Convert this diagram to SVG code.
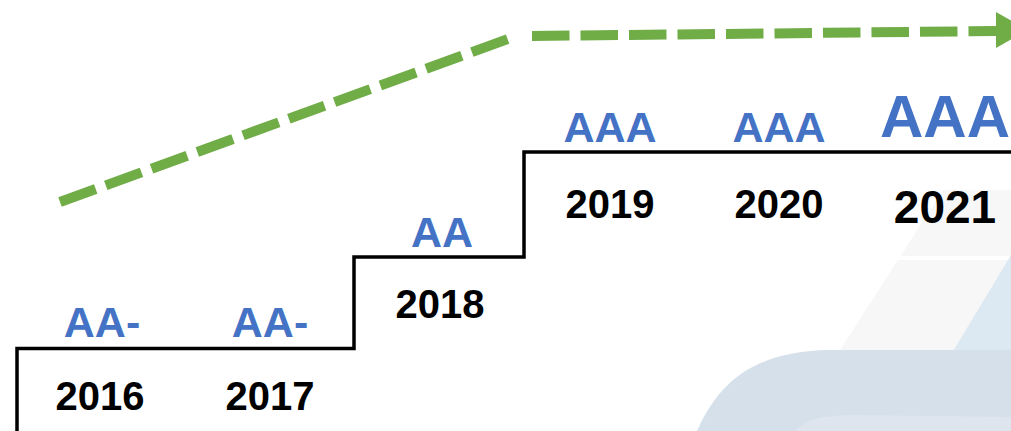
<svg xmlns="http://www.w3.org/2000/svg" width="1011" height="431" viewBox="0 0 1011 431">
  <style>
    .rating { font-family: "Liberation Sans", Arial, sans-serif; font-weight: bold; fill: #4472C4; text-anchor: middle; }
    .year { font-family: "Liberation Sans", Arial, sans-serif; font-weight: bold; fill: #000000; text-anchor: middle; }
    .trend { fill: none; stroke: #70AD47; stroke-width: 10; }
  </style>
  <rect width="1011" height="431" fill="#FFFFFF"/>
  <g id="background">
    <path d="M943 190 L1011 190 L1011 431 L788 431 Z" fill="#F7F7F7"/>
    <rect x="880" y="256" width="131" height="4" fill="#FFFFFF"/>
    <path d="M1011 255 L1011 431 L905 431 Z" fill="#DDE9F2"/>
    <path d="M697 431 C718 384 752 351 830 350 L1011 350 L1011 431 Z" fill="#D6E0EA"/>
    <path d="M795 431 C806 420 820 416 850 415 L1011 417 L1011 431 Z" fill="#DFE5EE"/>
  </g>
  <g id="connectors">
    <path id="steps" d="M17 431 V348.5 H354 V257 H524 V152 H1011" fill="none" stroke="#000000" stroke-width="3.5"/>
    <path id="trend-rise" class="trend" d="M60 202 L508 39" stroke-dasharray="38 10.7"/>
    <path id="trend-flat" class="trend" d="M532 36 L997 31" stroke-dasharray="37.5 11"/>
    <polygon id="trend-arrowhead" points="996,12 996,48 1028,30" fill="#70AD47"/>
  </g>
  <g id="y2016">
    <text class="rating" x="102" y="337" font-size="43">AA-</text>
    <text class="year" x="100" y="410" font-size="40">2016</text>
  </g>
  <g id="y2017">
    <text class="rating" x="270" y="337" font-size="43">AA-</text>
    <text class="year" x="270" y="410" font-size="40">2017</text>
  </g>
  <g id="y2018">
    <text class="rating" x="442" y="247" font-size="43">AA</text>
    <text class="year" x="440" y="318" font-size="40">2018</text>
  </g>
  <g id="y2019">
    <text class="rating" x="610" y="142" font-size="43">AAA</text>
    <text class="year" x="610" y="218" font-size="40">2019</text>
  </g>
  <g id="y2020">
    <text class="rating" x="779" y="142" font-size="43">AAA</text>
    <text class="year" x="779" y="218" font-size="40">2020</text>
  </g>
  <g id="y2021">
    <text class="rating" x="880" y="137" font-size="60" style="text-anchor:start">AAA</text>
    <text class="year" x="945" y="223" font-size="46">2021</text>
  </g>
</svg>
